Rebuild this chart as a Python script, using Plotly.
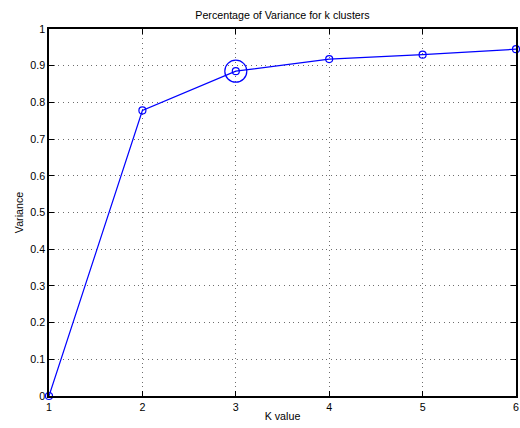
import plotly.graph_objects as go

k_values = [1, 2, 3, 4, 5, 6]
variance = [0.0, 0.778, 0.885, 0.918, 0.930, 0.945]
highlight_k = [3]
highlight_var = [0.885]
y_ticks = [0, 0.1, 0.2, 0.3, 0.4, 0.5, 0.6, 0.7, 0.8, 0.9, 1]
y_tick_labels = ["0", "0.1", "0.2", "0.3", "0.4", "0.5", "0.6", "0.7", "0.8", "0.9", "1"]

blue = "rgb(0,0,255)"
font_family = "Liberation Sans, Arial, Helvetica, sans-serif"
fs = 10.7

fig = go.Figure()
fig.add_trace(go.Scatter(
    x=k_values, y=variance, mode="lines+markers",
    line=dict(color=blue, width=1.2),
    marker=dict(symbol="circle-open", size=7, color=blue, line=dict(width=1.2)),
    cliponaxis=False, showlegend=False,
))
fig.add_trace(go.Scatter(
    x=highlight_k, y=highlight_var, mode="markers",
    marker=dict(symbol="circle-open", size=22, color=blue, line=dict(width=1.2)),
    cliponaxis=False, showlegend=False,
))

axis_common = dict(
    showline=True, linecolor="black", linewidth=1.5, mirror="allticks",
    ticks="inside", ticklen=5, tickcolor="black", tickwidth=1,
    showgrid=True, gridcolor="rgb(110,110,110)", griddash="1px,3.7px", gridwidth=1,
    zeroline=False, automargin=False,
    tickfont=dict(family=font_family, size=fs, color="black"),
)

fig.update_xaxes(range=[1, 6], tickvals=k_values, ticktext=[str(k) for k in k_values],
                 title=dict(text="K value", font=dict(family=font_family, size=fs, color="black"), standoff=1),
                 **axis_common)
fig.update_yaxes(range=[0, 1], tickvals=y_ticks, ticktext=y_tick_labels,
                 title=dict(text="Variance", font=dict(family=font_family, size=fs, color="black"), standoff=5),
                 **axis_common)

fig.update_layout(
    width=520, height=428,
    margin=dict(l=48.5, r=3.5, t=28.5, b=31.5),
    paper_bgcolor="white", plot_bgcolor="white",
    title=dict(text="Percentage of Variance for k clusters", x=0.5, xref="paper",
               y=1 - 15 / 428, yanchor="middle",
               font=dict(family=font_family, size=fs, color="black")),
)

fig.write_html("out.html", config={"displayModeBar": False},
               post_script="document.body.style.margin='0';document.body.style.overflow='hidden';")
